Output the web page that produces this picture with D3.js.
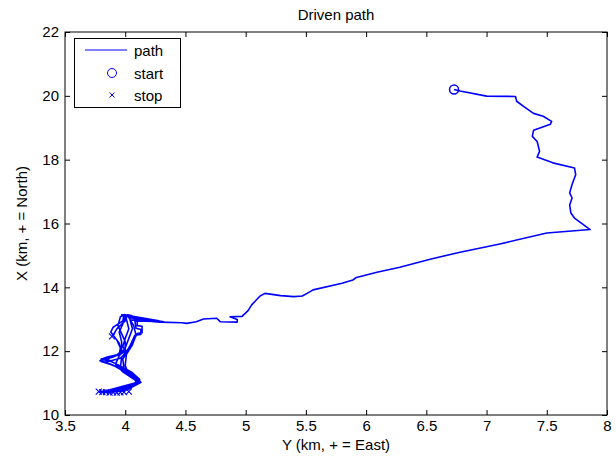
<!DOCTYPE html>
<html>
<head>
<meta charset="utf-8">
<script src="https://cdn.jsdelivr.net/npm/d3@7"></script>
<style>
  html, body { margin: 0; padding: 0; background: #fff; }
  svg { display: block; font-family: "Liberation Sans", Arial, sans-serif; }
</style>
</head>
<body>
<svg id="chart" width="616" height="457"></svg>
<script>
// ---- Data (km) ----
// East coordinate (chart x-axis, "Y") of the driven path
const pathEast = [
  6.73, 6.78, 7.00, 7.24, 7.25, 7.31, 7.39, 7.47, 7.54, 7.53, 7.39, 7.38, 7.42, 7.43, 7.44, 7.42,
  7.55, 7.73, 7.74, 7.71, 7.69, 7.71, 7.69, 7.70, 7.73, 7.86, 7.50, 7.11, 6.78, 6.54, 6.28, 6.09,
  5.92, 5.89, 5.80, 5.56, 5.51, 5.47, 5.40, 5.29, 5.16, 5.12, 5.05, 5.02, 4.97, 4.87, 4.93, 4.93,
  4.79, 4.76, 4.65, 4.59, 4.51, 4.47, 4.29, 4.12, 4.03,
  // cluster passes
  4.00, 3.98, 3.95, 3.97, 3.97, 3.92, 3.82, 3.80, 3.88, 3.97, 4.06, 4.12, 4.06, 3.95, 3.84, 3.78,
  3.85, 3.97, 4.07, 4.11, 4.05, 3.99, 3.98, 4.02, 4.05, 4.08, 4.13, 4.13, 4.09, 4.08, 4.25, 4.30, 4.10, 4.05,
  4.02, 4.00, 3.93, 3.90, 3.95, 3.97, 3.90, 3.85, 3.92, 4.02, 4.10, 4.13, 4.02, 3.90, 3.82,
  3.90, 4.02, 4.10, 4.08, 3.98, 3.92, 3.95, 4.00, 4.03, 4.06, 4.04, 4.20, 4.30, 4.06, 3.98,
  3.96, 3.94, 3.97, 4.00, 4.00, 3.95, 3.85, 3.79, 3.86, 3.94, 4.04, 4.11, 4.12, 4.00, 3.87, 3.80,
  3.92, 4.05, 4.12, 4.04, 3.96, 3.97, 4.02, 4.07, 4.10, 4.14, 4.14, 4.10, 4.10, 4.28, 4.05, 3.99,
  3.98, 3.90, 3.88, 3.93, 3.96, 3.95, 3.85, 3.80, 3.88, 3.95, 4.05, 4.12, 4.08, 3.98, 3.88, 3.84,
  3.95, 4.06, 4.11, 4.03, 4.00, 4.01, 4.06, 4.09, 4.07, 4.03, 4.22, 4.32, 4.03, 3.97,
  4.01, 4.03, 4.00, 3.98, 4.01, 3.96, 3.88, 3.83, 3.92, 4.01, 4.08, 4.13, 4.05, 3.93, 3.83,
  3.95, 4.03, 3.90, 3.83, 3.97, 4.05, 3.92, 3.86, 4.00
];
// North coordinate (chart y-axis, "X") of the driven path
const pathNorth = [
  20.20, 20.15, 19.99, 19.98, 19.83, 19.66, 19.45, 19.36, 19.20, 19.11, 18.92, 18.73, 18.57, 18.42, 18.26, 18.08,
  17.90, 17.74, 17.53, 17.22, 16.96, 16.80, 16.58, 16.33, 16.17, 15.81, 15.70, 15.36, 15.10, 14.89, 14.63, 14.47,
  14.31, 14.23, 14.13, 13.92, 13.81, 13.73, 13.71, 13.74, 13.81, 13.73, 13.45, 13.27, 13.09, 13.08, 12.99, 12.91,
  12.92, 13.03, 13.01, 12.92, 12.87, 12.89, 12.91, 12.96, 13.13,
  13.10, 12.85, 12.60, 12.30, 12.00, 11.85, 11.74, 11.68, 11.58, 11.45, 11.25, 11.05, 10.95, 10.84, 10.76, 10.73,
  10.74, 10.80, 10.92, 11.02, 11.22, 11.45, 11.75, 12.00, 12.25, 12.50, 12.52, 12.68, 12.72, 12.95, 12.93, 12.92, 13.00, 13.12,
  13.14, 12.95, 12.70, 12.50, 12.25, 11.95, 11.82, 11.76, 11.60, 11.40, 11.18, 11.02, 10.90, 10.80, 10.73,
  10.75, 10.82, 10.98, 11.10, 11.35, 11.60, 11.85, 12.10, 12.40, 12.70, 12.98, 12.97, 12.93, 13.06, 13.12,
  13.08, 12.80, 12.55, 12.30, 12.00, 11.88, 11.80, 11.70, 11.62, 11.50, 11.30, 11.10, 11.00, 10.88, 10.76, 10.71,
  10.74, 10.86, 11.00, 11.20, 11.50, 11.80, 12.05, 12.35, 12.55, 12.58, 12.78, 12.80, 13.02, 12.95, 13.10, 13.15,
  12.95, 12.75, 12.60, 12.35, 12.10, 11.90, 11.82, 11.75, 11.68, 11.55, 11.35, 11.12, 11.00, 10.90, 10.80, 10.72,
  10.77, 10.88, 11.05, 11.25, 11.55, 11.90, 12.20, 12.50, 12.80, 13.05, 12.96, 12.92, 13.10, 13.14,
  13.00, 12.70, 12.40, 12.15, 11.95, 11.78, 11.70, 11.66, 11.52, 11.32, 11.15, 11.03, 10.92, 10.80, 10.72,
  10.76, 10.80, 10.74, 10.72, 10.78, 10.84, 10.75, 10.71, 10.76
];
const startEast = [6.73];
const startNorth = [20.20];
const stopEast = [3.78, 3.81, 3.84, 3.87, 3.90, 3.93, 3.96, 3.99, 4.03, 3.89];
const stopNorth = [10.73, 10.72, 10.72, 10.70, 10.71, 10.70, 10.71, 10.72, 10.73, 12.46];

const xTicks = [3.5, 4, 4.5, 5, 5.5, 6, 6.5, 7, 7.5, 8];
const yTicks = [10, 12, 14, 16, 18, 20, 22];
const legendLabels = ["path", "start", "stop"];
const titleText = "Driven path";
const xLabelText = "Y (km, + = East)";
const yLabelText = "X (km, + = North)";

// ---- Layout ----
const L = 65, R = 607, T = 32, B = 415;
const blue = "#0000ff";
const FONT = '"Liberation Sans", Arial, sans-serif';
const svg = d3.select("#chart");

const x = d3.scaleLinear().domain([3.5, 8]).range([L, R]);
const y = d3.scaleLinear().domain([10, 22]).range([B, T]);

// axes
const fmt = d => String(d);
const axB = svg.append("g").attr("transform", `translate(0,${B})`)
  .call(d3.axisBottom(x).tickValues(xTicks).tickFormat(fmt).tickSizeInner(-5).tickSizeOuter(0).tickPadding(5));
const axT = svg.append("g").attr("transform", `translate(0,${T})`)
  .call(d3.axisTop(x).tickValues(xTicks).tickFormat("").tickSizeInner(-5).tickSizeOuter(0));
const axL = svg.append("g").attr("transform", `translate(${L},0)`)
  .call(d3.axisLeft(y).tickValues(yTicks).tickFormat(fmt).tickSizeInner(-5).tickSizeOuter(0).tickPadding(6));
const axR = svg.append("g").attr("transform", `translate(${R},0)`)
  .call(d3.axisRight(y).tickValues(yTicks).tickFormat("").tickSizeInner(-5).tickSizeOuter(0));
[axB, axT, axL, axR].forEach(g => {
  g.select(".domain").remove();
  g.selectAll("line").attr("stroke", "#000");
  g.selectAll("text").attr("fill", "#000").style("font-size", "15px").style("font-family", FONT);
});

// path
const pts = pathEast.map((e, i) => [e, pathNorth[i]]);
svg.append("path")
  .datum(pts)
  .attr("fill", "none")
  .attr("stroke", blue)
  .attr("stroke-width", 1.6)
  .attr("stroke-linejoin", "round")
  .attr("d", d3.line().x(d => x(d[0])).y(d => y(d[1])));

// start marker
svg.selectAll(".start").data(startEast).enter().append("circle")
  .attr("cx", d => x(d)).attr("cy", (d, i) => y(startNorth[i]))
  .attr("r", 4.5).attr("fill", "none").attr("stroke", blue).attr("stroke-width", 1.5);

// stop markers
const cross = (sel, s, w) => sel.append("path")
  .attr("d", `M${-s},${-s}L${s},${s}M${-s},${s}L${s},${-s}`)
  .attr("stroke", blue).attr("stroke-width", w).attr("fill", "none");
stopEast.forEach((e, i) => {
  const g = svg.append("g").attr("transform", `translate(${x(e)},${y(stopNorth[i])})`);
  cross(g, 3, 1.1);
});

// frame
svg.append("rect").attr("x", L).attr("y", T).attr("width", R - L).attr("height", B - T)
  .attr("fill", "none").attr("stroke", "#000").attr("stroke-width", 1);

// title & labels
svg.append("text").attr("x", (L + R) / 2).attr("y", 20).attr("text-anchor", "middle")
  .style("font-size", "15px").style("font-family", FONT).text(titleText);
svg.append("text").attr("x", (L + R) / 2).attr("y", 450).attr("text-anchor", "middle")
  .style("font-size", "15px").style("font-family", FONT).text(xLabelText);
svg.append("text").attr("transform", `translate(27,${(T + B) / 2}) rotate(-90)`)
  .attr("text-anchor", "middle").style("font-size", "15px").style("font-family", FONT).text(yLabelText);

// legend
const lg = svg.append("g");
lg.append("rect").attr("x", 74.5).attr("y", 38.5).attr("width", 106).attr("height", 69)
  .attr("fill", "#fff").attr("stroke", "#000").attr("stroke-width", 1);
const rowsY = [50, 73, 95];
lg.append("line").attr("x1", 85).attr("x2", 127).attr("y1", rowsY[0]).attr("y2", rowsY[0])
  .attr("stroke", blue).attr("stroke-width", 1);
lg.append("circle").attr("cx", 112).attr("cy", rowsY[1]).attr("r", 4.5)
  .attr("fill", "none").attr("stroke", blue).attr("stroke-width", 1);
cross(lg.append("g").attr("transform", `translate(112,${rowsY[2]})`), 2.5, 1);
legendLabels.forEach((t, i) => {
  lg.append("text").attr("x", 134).attr("y", rowsY[i] + 5.5)
    .style("font-size", "15px").style("font-family", FONT).text(t);
});
</script>
</body>
</html>
